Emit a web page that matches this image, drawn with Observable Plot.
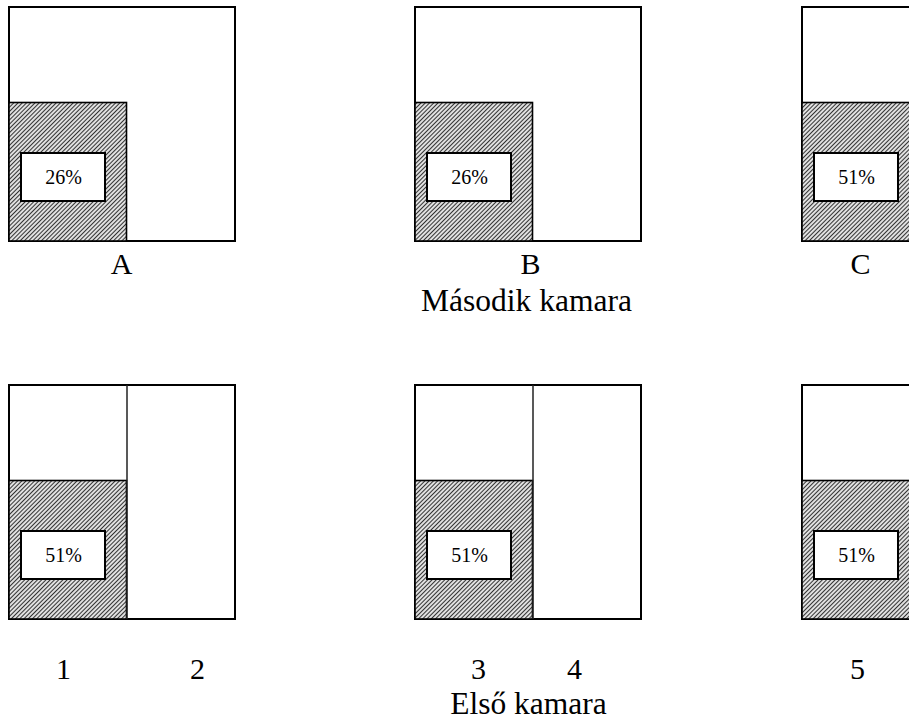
<!DOCTYPE html>
<html><head><meta charset="utf-8">
<script src="https://cdn.jsdelivr.net/npm/d3@7"></script>
<script src="https://cdn.jsdelivr.net/npm/@observablehq/plot@0.6"></script>
<style>html,body{margin:0;padding:0;background:#fff;overflow:hidden}</style>
</head><body><div id="chart"></div>
<script>
// ---- data ----
const topLabels = ["A", "B", "C"];
const topShares = [26, 26, 51];
const topHatchHalves = [1, 1, 2];
const bottomGroups = [["1", "2"], ["3", "4"], ["5"]];
const bottomShares = [51, 51, 51];
const rowTitles = ["Második kamara", "Első kamara"];

// ---- layout ----
const W = 909, H = 720;
const panelLeft = [9, 415, 802], panelW = 226, panelH = 234, rowTop = [7, 385];
const halfW = 117.5, hatchH = 138.5;
const boxDx = [12, 96], boxDy = [146, 194];
const topLabelX = [121, 530, 860], topLabelY = 273;
const bottomLabelX = [[63, 197], [478, 574], [857]], bottomLabelY = 678;
const titleX = [526, 528], titleY = [310, 713];
const serif = "'Liberation Serif', 'Times New Roman', serif";

const panels = [];
topLabels.forEach((lab, i) => panels.push({row: 0, i, share: topShares[i], halves: topHatchHalves[i], split: false}));
bottomGroups.forEach((g, i) => panels.push({row: 1, i, share: bottomShares[i], halves: 1, split: true}));

const L = d => panelLeft[d.i], T = d => rowTop[d.row];

const labelTexts = [];
topLabels.forEach((t, i) => labelTexts.push({t, x: topLabelX[i], y: topLabelY}));
bottomGroups.forEach((g, i) => g.forEach((t, j) => labelTexts.push({t, x: bottomLabelX[i][j], y: bottomLabelY})));
const titles = rowTitles.map((t, i) => ({t, x: titleX[i], y: titleY[i]}));

const svg = Plot.plot({
  width: W, height: H,
  margin: 0,
  x: {domain: [0, W], range: [0, W], axis: null},
  y: {domain: [0, H], range: [0, H], axis: null},
  style: {background: "white"},
  marks: [
    Plot.rect(panels, {x1: L, x2: d => L(d) + panelW, y1: T, y2: d => T(d) + panelH,
      fill: "white", stroke: "black", strokeWidth: 2}),
    Plot.rect(panels, {x1: L, x2: d => L(d) + (d.halves === 2 ? panelW : halfW),
      y1: d => T(d) + panelH - hatchH, y2: d => T(d) + panelH,
      fill: "url(#hatch)", stroke: "black", strokeWidth: 1.6}),
    Plot.ruleX(panels.filter(d => d.split), {x: d => L(d) + halfW, y1: T, y2: d => T(d) + panelH,
      stroke: "#222", strokeWidth: 1.5}),
    Plot.rect(panels, {x1: d => L(d) + boxDx[0], x2: d => L(d) + boxDx[1],
      y1: d => T(d) + boxDy[0], y2: d => T(d) + boxDy[1],
      fill: "white", stroke: "black", strokeWidth: 2}),
    Plot.text(panels, {x: d => L(d) + (boxDx[0] + boxDx[1]) / 2, y: d => T(d) + (boxDy[0] + boxDy[1]) / 2,
      text: d => d.share + "%", fontSize: 20, fontFamily: serif, textAnchor: "middle", lineAnchor: "middle", fill: "black"}),
    Plot.text(labelTexts, {x: "x", y: "y", text: "t", fontSize: 30, fontFamily: serif,
      textAnchor: "middle", lineAnchor: "bottom", fill: "black"}),
    Plot.text(titles, {x: "x", y: "y", text: "t", fontSize: 31.5, fontFamily: serif,
      textAnchor: "middle", lineAnchor: "bottom", fill: "black"})
  ]
});

const defs = d3.select(svg).insert("defs", ":first-child");
const p = defs.append("pattern").attr("id", "hatch").attr("patternUnits", "userSpaceOnUse")
  .attr("width", 3).attr("height", 3).attr("patternTransform", "rotate(45)");
p.append("rect").attr("width", 3).attr("height", 3).attr("fill", "#fff");
p.append("line").attr("x1", 1.5).attr("y1", -1).attr("x2", 1.5).attr("y2", 4)
  .attr("stroke", "#333").attr("stroke-width", 1.3);

document.getElementById("chart").appendChild(svg);
</script>
</body></html>
